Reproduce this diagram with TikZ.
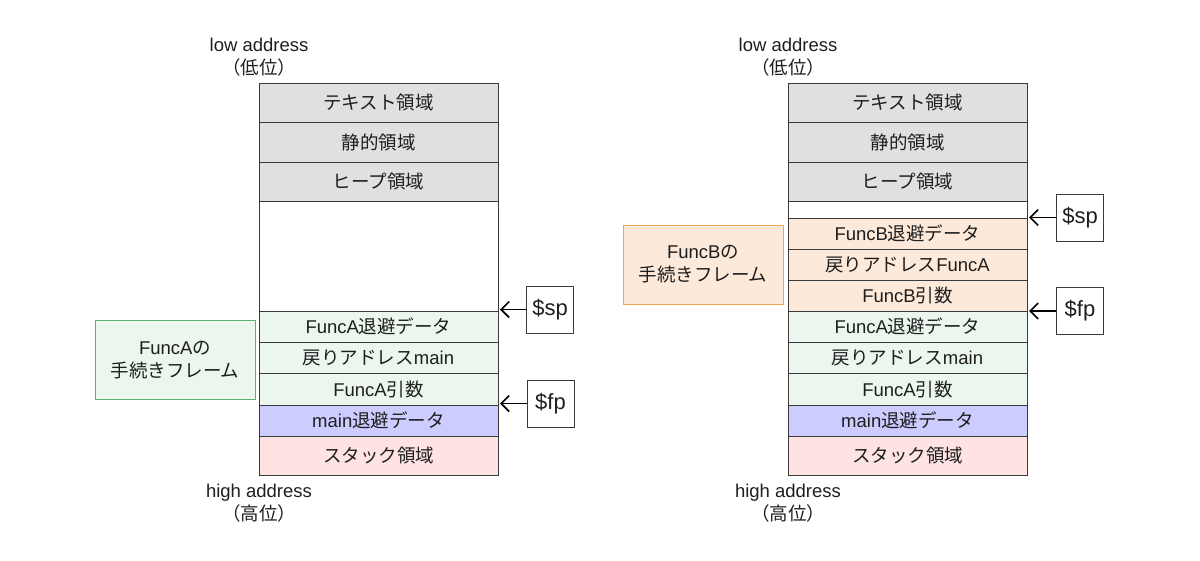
\documentclass[tikz,border=0pt]{standalone}
\usepackage{fontspec}
\setmainfont{Liberation Sans}
\newfontfamily\jp{Noto Sans CJK JP}
\usetikzlibrary{arrows.meta}
\definecolor{grayfill}{HTML}{E0E0E0}
\definecolor{greenfill}{HTML}{EAF6EE}
\definecolor{greenline}{HTML}{5DB075}
\definecolor{orangefill}{HTML}{FDE9D9}
\definecolor{orangeline}{HTML}{F5A55A}
\definecolor{bluefill}{HTML}{CCCCFF}
\definecolor{pinkfill}{HTML}{FFE2E2}
\definecolor{edge}{HTML}{3A3A3A}
\definecolor{txt}{HTML}{1E1E1E}
\tikzset{
  rowbox/.style={draw=edge, line width=1pt, minimum width=239pt, inner sep=0pt, outer sep=0pt,
    font=\fontsize{18.5}{22}\selectfont, text=txt},
  labelbox/.style={line width=1pt, minimum width=160pt, minimum height=79pt, inner sep=0pt,
    align=center, font=\fontsize{18.5}{23}\selectfont, text=txt},
  regbox/.style={draw=edge, line width=1pt, minimum width=47pt, minimum height=47pt, inner sep=0pt,
    font=\fontsize{22}{26}\selectfont, text=txt},
  addr/.style={align=center, font=\fontsize{18.5}{23}\selectfont, text=txt, inner sep=0pt},
  ptr/.style={draw=black, line width=1.6pt, -{Straight Barb[length=8pt,width=16pt]}}
}
\begin{document}
\begin{tikzpicture}[x=1pt,y=-1pt]
\useasboundingbox (0,0) rectangle (1200,560);
% ---------------- left stack ----------------
\node[addr] (llow) at (259,57) {low address\\{\jp （低位）}};
\node[rowbox, fill=grayfill, minimum height=39pt] (la1) at (378.5,102.5) {\jp テキスト領域};
\node[rowbox, fill=grayfill, minimum height=40pt] (la2) at (378.5,142) {\jp 静的領域};
\node[rowbox, fill=grayfill, minimum height=39pt] (la3) at (378.5,181.5) {\jp ヒープ領域};
\node[rowbox, fill=white, minimum height=110pt] (la4) at (378.5,256) {};
\node[rowbox, fill=greenfill, minimum height=31pt] (la5) at (378.5,326.5) {FuncA{\jp 退避データ}};
\node[rowbox, fill=greenfill, minimum height=31pt] (la6) at (378.5,357.5) {{\jp 戻りアドレス}main};
\node[rowbox, fill=greenfill, minimum height=32pt] (la7) at (378.5,389) {FuncA{\jp 引数}};
\node[rowbox, fill=bluefill, minimum height=31pt] (la8) at (378.5,420.5) {main{\jp 退避データ}};
\node[rowbox, fill=pinkfill, minimum height=39pt] (la9) at (378.5,455.5) {\jp スタック領域};
\node[addr] (lhigh) at (259,503) {high address\\{\jp （高位）}};
\node[labelbox, draw=greenline, fill=greenfill] (lframe) at (175,360) {FuncA{\jp の}\\{\jp 手続きフレーム}};
\node[regbox] (lsp) at (550,309.5) {\$sp};
\node[regbox] (lfp) at (550.5,403.5) {\$fp};
\draw[ptr] (lsp.west) -- (lsp.west -| 500,0);
\draw[ptr] (lfp.west) -- (lfp.west -| 500,0);
% ---------------- right stack ----------------
\node[addr] (rlow) at (788,57) {low address\\{\jp （低位）}};
\node[rowbox, fill=grayfill, minimum height=39pt] (ra1) at (907.5,102.5) {\jp テキスト領域};
\node[rowbox, fill=grayfill, minimum height=40pt] (ra2) at (907.5,142) {\jp 静的領域};
\node[rowbox, fill=grayfill, minimum height=39pt] (ra3) at (907.5,181.5) {\jp ヒープ領域};
\node[rowbox, fill=white, minimum height=17pt] (ra4) at (907.5,209.5) {};
\node[rowbox, fill=orangefill, minimum height=31pt] (ra5) at (907.5,233.5) {FuncB{\jp 退避データ}};
\node[rowbox, fill=orangefill, minimum height=31pt] (ra6) at (907.5,264.5) {{\jp 戻りアドレス}FuncA};
\node[rowbox, fill=orangefill, minimum height=31pt] (ra7) at (907.5,295.5) {FuncB{\jp 引数}};
\node[rowbox, fill=greenfill, minimum height=31pt] (ra8) at (907.5,326.5) {FuncA{\jp 退避データ}};
\node[rowbox, fill=greenfill, minimum height=31pt] (ra9) at (907.5,357.5) {{\jp 戻りアドレス}main};
\node[rowbox, fill=greenfill, minimum height=32pt] (ra10) at (907.5,389) {FuncA{\jp 引数}};
\node[rowbox, fill=bluefill, minimum height=31pt] (ra11) at (907.5,420.5) {main{\jp 退避データ}};
\node[rowbox, fill=pinkfill, minimum height=39pt] (ra12) at (907.5,455.5) {\jp スタック領域};
\node[addr] (rhigh) at (788,503) {high address\\{\jp （高位）}};
\node[labelbox, draw=orangeline, fill=orangefill] (rframe) at (703,264.5) {FuncB{\jp の}\\{\jp 手続きフレーム}};
\node[regbox] (rsp) at (1080,217.5) {\$sp};
\node[regbox] (rfp) at (1080,311) {\$fp};
\draw[ptr] (rsp.west) -- (rsp.west -| 1029,0);
\draw[ptr] (rfp.west) -- (rfp.west -| 1029,0);
\end{tikzpicture}
\end{document}
